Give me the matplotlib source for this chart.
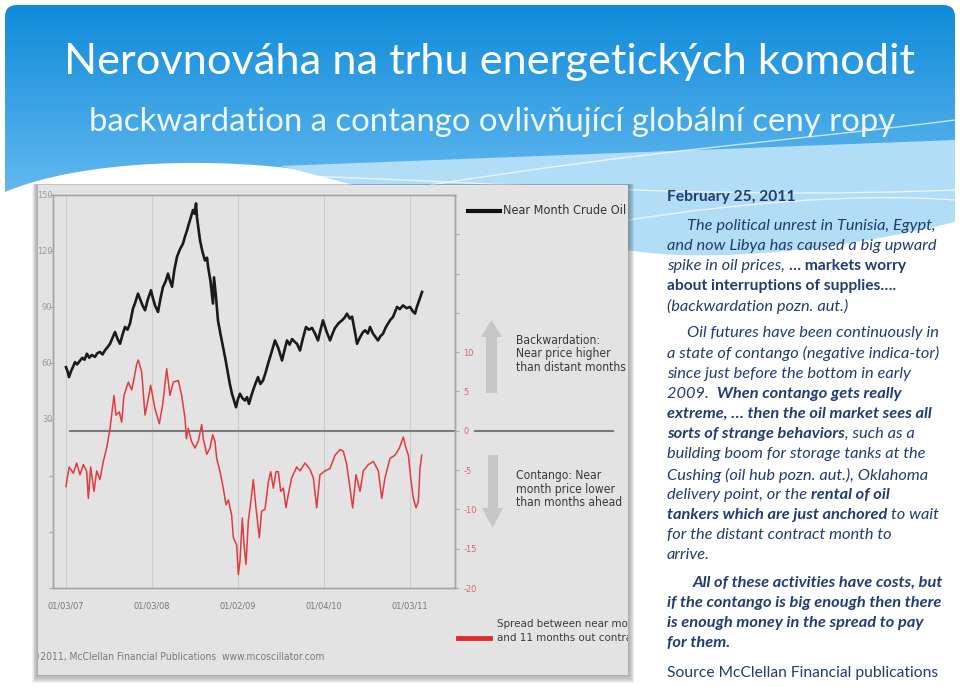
import os

import matplotlib
import numpy as np

matplotlib.use("Agg")
import matplotlib.pyplot as plt  # noqa: E402
from matplotlib import font_manager  # noqa: E402
from matplotlib.font_manager import FontProperties  # noqa: E402
from matplotlib.patches import PathPatch, Polygon, Rectangle  # noqa: E402
from matplotlib.path import Path  # noqa: E402

W, H = 960, 687

# --- data (years since first trading day of 2007) ---
oil_t = [0.000, 0.020, 0.035, 0.060, 0.085, 0.105, 0.130, 0.163, 0.190, 0.215, 0.244, 0.270,
         0.300, 0.337, 0.365, 0.395, 0.425, 0.453, 0.480, 0.512, 0.540, 0.570, 0.600, 0.628,
         0.655, 0.686, 0.715, 0.744, 0.779, 0.805, 0.837, 0.865, 0.890, 0.919, 0.950, 0.988,
         1.010, 1.035, 1.070, 1.100, 1.128, 1.160, 1.186, 1.210, 1.233, 1.260, 1.291, 1.325,
         1.360, 1.385, 1.407, 1.425, 1.442, 1.460, 1.477, 1.495, 1.512, 1.523, 1.540, 1.558,
         1.585, 1.616, 1.640, 1.651, 1.680, 1.709, 1.721, 1.745, 1.767, 1.795, 1.826, 1.855,
         1.884, 1.905, 1.930, 1.955, 1.977, 2.000, 2.023, 2.050, 2.081, 2.105, 2.128, 2.150,
         2.174, 2.205, 2.233, 2.260, 2.291, 2.320, 2.349, 2.390, 2.430, 2.470, 2.512, 2.540,
         2.570, 2.600, 2.628, 2.660, 2.686, 2.721, 2.755, 2.791, 2.825, 2.860, 2.895, 2.930,
         2.960, 2.988, 3.030, 3.070, 3.100, 3.128, 3.170, 3.209, 3.240, 3.267, 3.300, 3.326,
         3.355, 3.384, 3.419, 3.450, 3.477, 3.510, 3.535, 3.570, 3.600, 3.628, 3.655, 3.686,
         3.715, 3.744, 3.775, 3.802, 3.830, 3.849, 3.880, 3.919, 3.960, 4.000, 4.030, 4.058,
         4.075, 4.093, 4.115, 4.140]
oil_v = [58.0, 55.5, 52.7, 56.0, 58.5, 60.7, 59.5, 61.5, 63.0, 62.0, 65.2, 63.0,
         64.5, 63.5, 65.5, 66.1, 64.8, 67.0, 68.5, 70.5, 73.5, 76.8, 73.0, 70.5,
         75.0, 79.5, 78.0, 81.3, 89.3, 92.5, 97.3, 94.0, 91.0, 88.4, 94.0, 99.1,
         95.0, 91.0, 87.5, 95.0, 100.9, 104.0, 108.0, 104.0, 101.0, 110.0, 117.0, 121.0,
         124.0, 128.0, 131.0, 134.0, 136.6, 139.5, 142.0, 140.0, 145.5, 138.0, 132.0, 125.9,
         120.0, 115.0, 116.5, 112.0, 104.0, 92.0, 106.0, 95.0, 83.0, 76.0, 68.7, 62.0,
         54.5, 49.0, 43.8, 40.0, 36.6, 41.0, 43.8, 41.5, 40.2, 42.0, 38.4, 42.0,
         45.5, 49.5, 52.7, 49.0, 50.9, 55.0, 59.8, 66.0, 72.3, 68.0, 61.6, 67.0,
         72.3, 70.0, 73.0, 71.5, 70.5, 66.9, 73.5, 79.5, 78.0, 79.0, 76.0, 72.3,
         78.0, 83.0, 77.0, 72.3, 76.0, 79.0, 81.5, 83.0, 84.5, 86.6, 84.0, 85.0,
         78.0, 70.5, 74.0, 76.5, 77.7, 76.0, 79.5, 75.9, 74.0, 72.3, 74.5, 75.9,
         79.0, 81.3, 83.5, 84.8, 88.0, 90.2, 89.0, 91.0, 89.5, 90.2, 88.0, 86.6,
         89.5, 91.9, 95.0, 98.2]

spread_t = [0.000, 0.015, 0.038, 0.085, 0.124, 0.163, 0.201, 0.240, 0.260, 0.287, 0.326, 0.357,
            0.395, 0.434, 0.473, 0.512, 0.531, 0.558, 0.581, 0.620, 0.647, 0.674, 0.725, 0.764,
            0.791, 0.822, 0.841, 0.880, 0.919, 0.957, 0.984, 1.035, 1.085, 1.124, 1.171, 1.209,
            1.248, 1.306, 1.345, 1.384, 1.400, 1.422, 1.461, 1.500, 1.539, 1.578, 1.597, 1.636,
            1.674, 1.705, 1.733, 1.752, 1.791, 1.829, 1.860, 1.888, 1.926, 1.946, 1.984, 2.004,
            2.023, 2.050, 2.070, 2.093, 2.120, 2.159, 2.178, 2.209, 2.248, 2.275, 2.314, 2.353,
            2.380, 2.411, 2.442, 2.469, 2.496, 2.527, 2.558, 2.585, 2.624, 2.682, 2.721, 2.779,
            2.837, 2.876, 2.915, 2.953, 3.012, 3.070, 3.128, 3.186, 3.225, 3.264, 3.302, 3.333,
            3.372, 3.419, 3.457, 3.515, 3.574, 3.632, 3.671, 3.709, 3.767, 3.826, 3.876, 3.922,
            3.953, 3.981, 4.008, 4.039, 4.070, 4.097, 4.116, 4.136]
spread_v = [-7.1, -6.0, -4.6, -5.4, -4.1, -5.6, -4.3, -5.1, -8.6, -4.6, -7.7, -5.1,
            -6.2, -3.9, -2.2, 0.3, 2.0, 4.5, 2.0, 2.4, 1.1, 4.5, 6.2, 5.2,
            6.6, 8.5, 9.0, 7.5, 2.0, 4.1, 5.8, 2.8, 0.9, 3.3, 7.9, 4.5,
            6.2, 6.4, 4.5, 1.6, -1.0, 0.3, -1.4, -2.2, -1.3, 0.8, -1.0, -3.0,
            -2.2, -0.5, -1.4, -3.5, -5.2, -7.3, -9.4, -8.8, -10.7, -13.6, -14.5, -18.3,
            -16.6, -11.1, -14.5, -17.0, -11.5, -8.1, -6.2, -9.8, -13.6, -10.2, -10.0, -6.5,
            -5.2, -7.3, -5.2, -5.2, -7.7, -7.3, -9.8, -8.1, -6.0, -4.6, -5.1, -4.1,
            -4.9, -6.0, -9.8, -5.6, -5.1, -4.8, -3.1, -2.4, -2.6, -4.3, -7.3, -9.8,
            -5.6, -7.7, -5.1, -4.3, -3.9, -5.1, -8.6, -6.0, -3.5, -3.1, -2.2, -0.8,
            -2.2, -3.1, -6.0, -8.6, -9.8, -9.0, -4.8, -3.1]

date_ticks = [0, 1, 2, 3, 4]
date_labels = ["01/03/07", "01/03/08", "01/02/09", "01/04/10", "01/03/11"]
price_ticks = [30, 60, 90, 120, 150]
spread_ticks = [-20, -15, -10, -5, 0, 5, 10, 15, 20, 25]
spread_labels = ["-20", "-15", "-10", "-5", "0", "5", "10", "", "", ""]

title = "Nerovnováha na trhu energetických komodit"
subtitle = "backwardation a contango ovlivňující globální ceny ropy"

# (text, style): i = italic, bi = bold italic, B = bold, u = upright; i0 = no space before
body = [
    (197, 667, [("February 25, 2011", "B")]),
    (226, 687, [("The political unrest in Tunisia, Egypt,", "i")]),
    (246, 667, [("and now Libya has caused a big upward", "i")]),
    (266, 667, [("spike in oil prices,", "i"), ("… markets worry", "B")]),
    (286, 667, [("about interruptions of supplies….", "B")]),
    (306, 667, [("(backwardation pozn. aut.)", "i")]),
    (333, 687, [("Oil futures have been continuously in", "i")]),
    (353, 667, [("a state of contango (negative indica-tor)", "i")]),
    (374, 667, [("since just before the bottom in early", "i")]),
    (394, 667, [("2009. ", "i"), ("When contango gets really", "bi")]),
    (414, 667, [("extreme, … then the oil market sees all", "bi")]),
    (434, 667, [("sorts of strange behaviors", "bi"), (", such as a", "i0")]),
    (454, 667, [("building boom for storage tanks at the", "i")]),
    (475, 667, [("Cushing (oil hub pozn. aut.), Oklahoma", "i")]),
    (495, 667, [("delivery point, or the", "i"), ("rental of oil", "bi")]),
    (515, 667, [("tankers which are just anchored", "bi"), ("to wait", "i")]),
    (535, 667, [("for the distant contract month to", "i")]),
    (555, 667, [("arrive.", "i")]),
    (583, 693, [("All of these activities have costs, but", "bi")]),
    (603, 667, [("if the contango is big enough then there", "bi")]),
    (623, 667, [("is enough money in the spread to pay", "bi")]),
    (643, 667, [("for them.", "bi")]),
    (673, 667, [("Source McClellan Financial publications", "u")]),
]

HEAD = ["Lato", "DejaVu Sans"]
BODY = ["Lato", "DejaVu Sans"]
NAVY = "#223c70"
STY = {"i": dict(style="italic"), "i0": dict(style="italic"), "bi": dict(style="italic", weight="bold"),
       "B": dict(weight="bold"), "u": dict()}


def narrow_font():
    files = font_manager.findSystemFonts()
    for key in ("liberationsansnarrow-regular", "dejavusanscondensed.ttf", "robotocondensed-regular",
                "opensans-condensed", "notosans-condensed.ttf", "notosanscondensed-regular"):
        for f in files:
            if os.path.basename(f).lower().startswith(key):
                return FontProperties(fname=f)
    return FontProperties(family="Liberation Sans")


NARROW = narrow_font()

fig = plt.figure(figsize=(9.6, 6.87), dpi=100)
R = fig.canvas.get_renderer()


def fit(s, target, **kw):
    t = fig.text(0, 0, s, fontsize=10, **kw)
    w = t.get_window_extent(renderer=R).width
    t.remove()
    return 10 * target / w


def overlay(z):
    a = fig.add_axes([0, 0, 1, 1])
    a.set_xlim(0, W); a.set_ylim(H, 0); a.axis("off"); a.set_zorder(z)
    a.patch.set_visible(False)
    return a


def clipped(t):
    t.set_clip_on(True)
    t.set_clip_path(img)
    return t


bg = overlay(0)

# header: light wave band, then gradient blue with rounded top and wavy bottom
band = Path([(280, 166), (955, 140), (955, 222), (880, 240), (780, 258), (680, 255),
             (560, 250), (420, 200), (280, 166), (280, 166)],
            [1, 2, 2, 4, 4, 4, 4, 4, 4, 79])
bg.add_patch(PathPatch(band, fc="#b1ddf6", ec="none"))
for pts in ([(300, 176), (500, 182), (700, 200), (955, 190)],
            [(430, 185), (650, 150), (800, 140), (955, 120)],
            [(560, 232), (700, 205), (850, 192), (955, 200)]):
    bg.add_patch(PathPatch(Path(pts, [1, 4, 4, 4]), fc="none", ec="white", lw=1.0, alpha=0.7))

hdr = Path([(5, 192), (5, 17), (5, 5), (17, 5), (943, 5), (955, 5), (955, 17), (955, 160),
            (750, 163), (480, 172), (330, 174), (220, 155), (80, 160), (5, 192), (5, 192)],
           [1, 2, 3, 3, 2, 3, 3, 2, 4, 4, 4, 4, 4, 4, 79])
hp = PathPatch(hdr, fc="none", ec="none")
bg.add_patch(hp)
top, bot = np.array([0.05, 0.54, 0.85]), np.array([0.40, 0.73, 0.94])
grad = top + (bot - top) * np.linspace(0, 1, 200)[:, None]
im = bg.imshow(grad[:, None, :], extent=(0, W, 200, 0), aspect="auto", interpolation="bilinear")
im.set_clip_path(hp)
bg.set_xlim(0, W); bg.set_ylim(H, 0)

bg.text(489, 62, title, color="white", ha="center", va="center", family=HEAD,
        fontsize=fit(title, 853, family=HEAD))
bg.text(492, 122, subtitle, color="#f0f8fe", ha="center", va="center", family=HEAD,
        fontsize=fit(subtitle, 805, family=HEAD))

# chart picture: shadow + grey card
for i in range(7, 0, -1):
    bg.add_patch(Rectangle((38 - 0.9 * i, 185 - 0.2 * i), 590 + 1.8 * i, 490 + 1.4 * i,
                           fc="black", ec="none", alpha=0.05))
img = Rectangle((38, 185), 590, 490, fc="#e3e3e3", ec="none")
bg.add_patch(img)

# right-hand text
bsize = fit("a state of contango (negative indica-tor)", 272, family=BODY, style="italic")
tmp = fig.text(0, 0, "a a", fontsize=bsize, family=BODY, style="italic")
w1 = tmp.get_window_extent(renderer=R).width; tmp.remove()
tmp = fig.text(0, 0, "aa", fontsize=bsize, family=BODY, style="italic")
gap = w1 - tmp.get_window_extent(renderer=R).width; tmp.remove()
for y, x, parts in body:
    for k, (s, st) in enumerate(parts):
        if k and st != "i0":
            x += gap
        size = bsize * (0.96 if st in ("B", "u") else 1.0)
        t = bg.text(x, y, s, fontsize=size, color=NAVY, family=BODY, va="center", **STY[st])
        x += t.get_window_extent(renderer=R).width

# --- the chart itself ---
ax = fig.add_axes([53 / W, 1 - 588 / H, 402 / W, 393 / H])
ax.set_zorder(2); ax.patch.set_visible(False)
ax2 = ax.twinx()
ax2.set_zorder(3); ax2.patch.set_visible(False)

tsize = fit("01/03/07", 37, fontproperties=NARROW)
ax.plot(oil_t, oil_v, color="#1a1a1a", lw=1.9)
ax.set_xlim(-0.151, 4.523)
ax.set_ylim(-60, 150)
ax.set_xticks(date_ticks, date_labels)
ax.set_yticks(range(-60, 151, 30))
ax.tick_params(axis="x", length=0, pad=10, labelcolor="#777777")
ax.tick_params(axis="y", length=3, color="#aaaaaa", labelleft=False)
ax.grid(axis="x", color="#cccccc", lw=0.8)
for v in price_ticks:
    clipped(ax.text(-0.002, v, str(v), transform=ax.get_yaxis_transform(), ha="right", va="center",
                    fontproperties=NARROW, fontsize=tsize, color="#999999"))

ax2.axhline(0, xmin=0.042, xmax=1.0, color="#7a7a7a", lw=1.5, zorder=1)
ax2.axhline(0, xmin=(475 - 53) / 402, xmax=(613 - 53) / 402, color="#7a7a7a", lw=1.5, clip_on=False)
ax2.plot(spread_t, spread_v, color="#e23a3f", lw=1.1, zorder=2)
ax2.set_ylim(-20, 30)
ax2.set_yticks(spread_ticks, spread_labels)
ax2.tick_params(axis="y", length=3, color="#aaaaaa", labelcolor="#e0606a", pad=3)
for lab in ax.get_xticklabels() + ax2.get_yticklabels():
    lab.set_fontproperties(NARROW)
    lab.set_fontsize(tsize)
for a in (ax, ax2):
    for sp in a.spines.values():
        sp.set_color("#a5a5a5"); sp.set_linewidth(1.0)

# legend, arrows and notes on the picture
fg = overlay(5)
lsize = fit("Near Month Crude Oil", 123, fontproperties=NARROW)
fg.plot([468, 500], [211, 211], color="#111111", lw=3)
clipped(fg.text(503, 211, "Near Month Crude Oil", fontproperties=NARROW, fontsize=lsize,
                color="#333333", va="center"))
fg.add_patch(Polygon([(486, 393), (486, 337), (481, 337), (491.5, 320), (502, 337), (497, 337), (497, 393)],
                     fc="#c6c6c6", ec="none"))
fg.add_patch(Polygon([(488, 455), (488, 508), (482, 508), (492.5, 528), (503, 508), (498, 508), (498, 455)],
                     fc="#c6c6c6", ec="none"))
asize = fit("than distant months", 110, fontproperties=NARROW)
clipped(fg.text(516, 354, "Backwardation:\nNear price higher\nthan distant months", fontproperties=NARROW,
                fontsize=asize, color="#3a3a3a", va="center", linespacing=1.05))
clipped(fg.text(516, 489, "Contango: Near\nmonth price lower\nthan months ahead", fontproperties=NARROW,
                fontsize=asize, color="#3a3a3a", va="center", linespacing=1.05))
fg.plot([458, 490], [638, 638], color="#e02a30", lw=3.5)
ssize = fit("Spread between near month", 148, fontproperties=NARROW)
clipped(fg.text(497, 631, "Spread between near month\nand 11 months out contracts", fontproperties=NARROW,
                fontsize=ssize, color="#3a3a3a", va="center", linespacing=1.45))
cr = "©2011, McClellan Financial Publications  www.mcoscillator.com"
clipped(fg.text(31, 657, cr, fontproperties=NARROW, fontsize=fit(cr, 293, fontproperties=NARROW),
                color="#7a7a7a", va="center"))

fig.savefig("out.png", dpi=100)
